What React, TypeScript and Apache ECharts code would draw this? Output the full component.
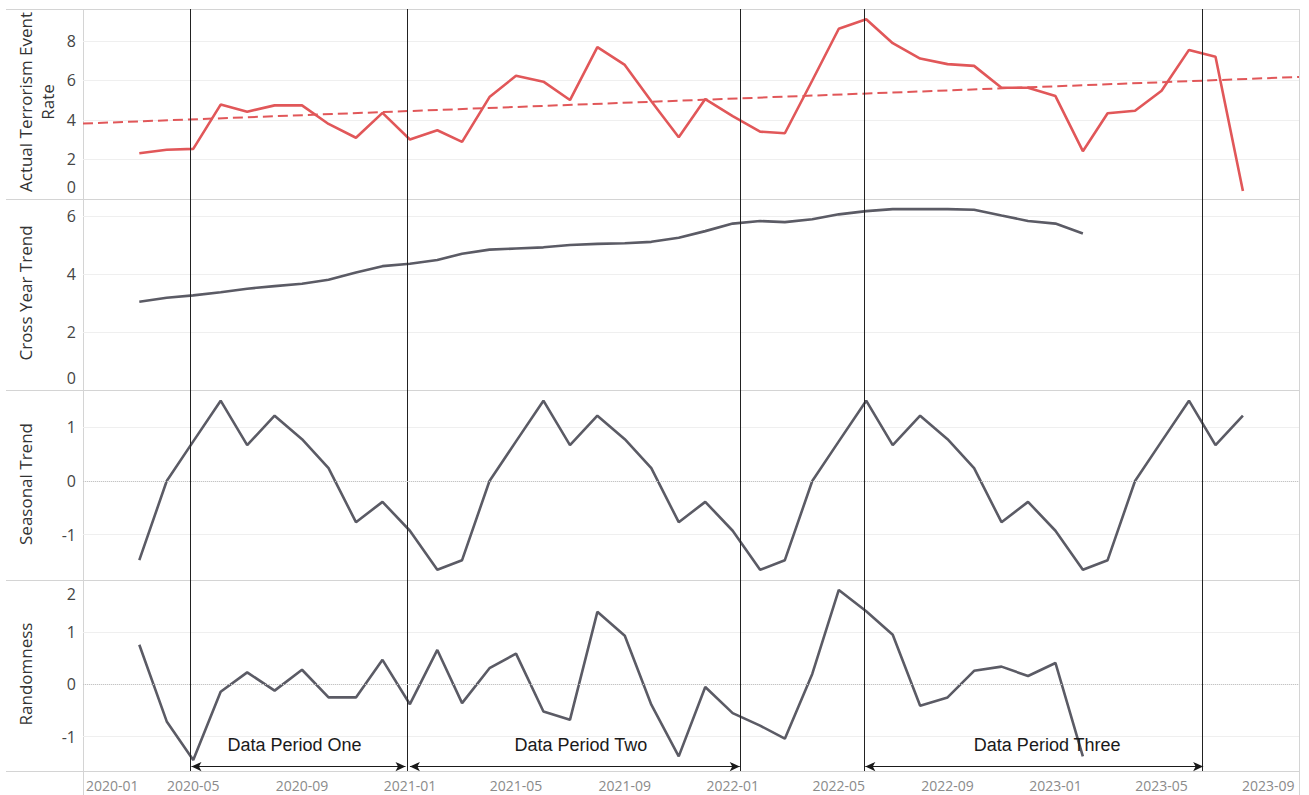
import React, { useEffect, useRef } from 'react';
import * as echarts from 'echarts';

// ---------- data ----------
const months = [
  '2020-03', '2020-04', '2020-05', '2020-06', '2020-07', '2020-08', '2020-09', '2020-10', '2020-11', '2020-12',
  '2021-01', '2021-02', '2021-03', '2021-04', '2021-05', '2021-06', '2021-07', '2021-08', '2021-09', '2021-10', '2021-11', '2021-12',
  '2022-01', '2022-02', '2022-03', '2022-04', '2022-05', '2022-06', '2022-07', '2022-08', '2022-09', '2022-10', '2022-11', '2022-12',
  '2023-01', '2023-02', '2023-03', '2023-04', '2023-05', '2023-06', '2023-07', '2023-08',
];

const actualRate = [
  2.32, 2.49, 2.54, 4.78, 4.42, 4.74, 4.74, 3.8, 3.1, 4.36,
  3.01, 3.48, 2.89, 5.16, 6.24, 5.94, 5.01, 7.69, 6.79, 4.95, 3.13, 5.06,
  4.2, 3.41, 3.33, 6.0, 8.62, 9.1, 7.89, 7.11, 6.83, 6.74, 5.63, 5.63,
  5.21, 2.42, 4.34, 4.47, 5.48, 7.55, 7.2, 0.4,
];

const crossYearTrend = [
  3.05, 3.19, 3.27, 3.38, 3.5, 3.59, 3.67, 3.81, 4.06, 4.28,
  4.36, 4.49, 4.71, 4.85, 4.89, 4.93, 5.01, 5.05, 5.07, 5.12, 5.26, 5.49,
  5.75, 5.84, 5.8, 5.9, 6.07, 6.18, 6.25, 6.25, 6.25, 6.23, 6.03, 5.84,
  5.75, 5.41,
];

const seasonalTrend = [
  -1.48, 0.0, 0.74, 1.5, 0.67, 1.22, 0.78, 0.24, -0.77, -0.39,
  -0.93, -1.66, -1.48, 0.0, 0.74, 1.5, 0.67, 1.22, 0.78, 0.24, -0.77, -0.39,
  -0.93, -1.66, -1.48, 0.0, 0.74, 1.5, 0.67, 1.22, 0.78, 0.24, -0.77, -0.39,
  -0.93, -1.66, -1.48, 0.0, 0.74, 1.5, 0.67, 1.22,
];

const randomness = [
  0.76, -0.71, -1.45, -0.14, 0.23, -0.12, 0.28, -0.25, -0.25, 0.47,
  -0.38, 0.66, -0.36, 0.31, 0.59, -0.52, -0.68, 1.39, 0.93, -0.39, -1.38, -0.05,
  -0.55, -0.79, -1.04, 0.2, 1.81, 1.4, 0.95, -0.41, -0.25, 0.26, 0.34, 0.16,
  0.41, -1.38,
];

const trendStart = 3.82;
const trendEnd = 6.18;

const tickLabels = [
  '2020-01', '2020-05', '2020-09', '2021-01', '2021-05', '2021-09',
  '2022-01', '2022-05', '2022-09', '2023-01', '2023-05', '2023-09',
];

const eventDates = ['2020-04-28', '2020-12-29', '2022-01-10', '2022-05-30', '2023-06-16'];

const periods = [
  { name: 'Data Period One', from: '2020-04-29', to: '2020-12-27', shift: -4 },
  { name: 'Data Period Two', from: '2021-01-01', to: '2022-01-09', shift: 6 },
  { name: 'Data Period Three', from: '2022-05-31', to: '2023-06-17', shift: 13 },
];
const periodArrowLevel = -1.575;

const panelTitles = ['Actual Terrorism Event\nRate', 'Cross Year Trend', 'Seasonal Trend', 'Randomness'];

// ---------- helpers ----------
const toTime = (s: string) => {
  const [y, m, d] = s.split('-').map(Number);
  return Date.UTC(y, m - 1, d || 1);
};
const xMin = Date.UTC(2019, 11, 28, 8);
const xMax = Date.UTC(2023, 9, 3, 10);

const RED = '#e15759';
const GREY = '#5b5b65';
const FONT = '"Open Sans", "Noto Sans", sans-serif';

const fmtMonth = (v: number) => {
  const d = new Date(v);
  return `${d.getUTCFullYear()}-${String(d.getUTCMonth() + 1).padStart(2, '0')}`;
};

export default function App() {
  const ref = useRef<HTMLDivElement>(null);

  useEffect(() => {
    const chart = echarts.init(ref.current!, null, { renderer: 'svg' });

    const panels = [
      { top: 9, height: 190, min: 0, max: 9.62, step: 2 },
      { top: 199, height: 191, min: 0, max: 6.6, step: 2 },
      { top: 390, height: 190, min: -1.85, max: 1.7, step: 1 },
      { top: 580, height: 191, min: -1.66, max: 2.0, step: 1 },
    ];

    const grids = panels.map((p) => ({
      left: 83,
      right: 10,
      top: p.top,
      height: p.height,
      containLabel: false,
    }));

    const xAxes = panels.map((_, i) => ({
      type: 'value',
      gridIndex: i,
      min: xMin,
      max: xMax,
      axisLine: { show: false },
      axisTick: { show: false },
      splitLine: { show: false },
      axisLabel:
        i === 3
          ? {
              show: true,
              customValues: tickLabels.map(toTime),
              margin: 7,
              color: '#8a8a8a',
              fontFamily: FONT,
              fontSize: 14,
              formatter: (v: number) => {
                const s = fmtMonth(v);
                if (s === tickLabels[0]) return `{first|${s}}`;
                if (s === tickLabels[tickLabels.length - 1]) return `{last|${s}}`;
                return s;
              },
              rich: {
                first: { padding: [0, 0, 0, 52] },
                last: { padding: [0, 4, 0, 0] },
              },
            }
          : { show: false },
    }));

    const yAxes = panels.map((p, i) => ({
      type: 'value',
      gridIndex: i,
      min: p.min,
      max: p.max,
      minInterval: p.step,
      maxInterval: p.step,
      axisLine: { show: false },
      axisTick: { show: false },
      splitLine: {
        show: true,
        showMinLine: false,
        showMaxLine: false,
        lineStyle: { color: '#efefef', width: 1 },
      },
      axisLabel: {
        show: true,
        showMinLabel: i === 0 || i === 1,
        showMaxLabel: i === 3,
        margin: 7,
        color: '#454545',
        fontFamily: FONT,
        fontSize: 16,
        formatter: (v: number) => {
          if ((i === 0 || i === 1) && v === 0) return '{up|0}';
          if (i === 3 && v === 2) return '{down|2}';
          return String(v);
        },
        rich: {
          up: { padding: [0, 0, 25, 0] },
          down: { padding: [27, 0, 0, 0] },
        },
      },
    }));

    const verticals = eventDates.map((d) => ({ xAxis: toTime(d) }));
    const zeroLine = { yAxis: 0, lineStyle: { color: '#c4c4c4', type: 'dotted', width: 1 } };

    const baseMarkLine = (extra: any[] = []) => ({
      silent: true,
      animation: false,
      symbol: ['none', 'none'],
      label: { show: false },
      lineStyle: { color: '#222', width: 1, type: 'solid' },
      data: [...verticals, ...extra],
    });

    const arrowItems = periods.map((p) => [
      {
        name: p.name,
        coord: [toTime(p.from), periodArrowLevel],
        symbol: 'arrow',
        symbolSize: [7, 10],
        lineStyle: { color: '#1a1a1a', width: 1, type: 'solid' },
        label: {
          show: true,
          position: 'insideMiddleTop',
          distance: 13,
          formatter: '{b}',
          color: '#1a1a1a',
          fontFamily: '"Liberation Sans", Arial, sans-serif',
          fontSize: 18,
          padding: p.shift >= 0 ? [0, 0, 0, p.shift * 2] : [0, -p.shift * 2, 0, 0],
        },
      },
      {
        coord: [toTime(p.to), periodArrowLevel],
        symbol: 'arrow',
        symbolSize: [7, 10],
      },
    ]);

    const lineSeries = (
      name: string,
      idx: number,
      values: number[],
      color: string,
      markLine: any
    ) => ({
      name,
      type: 'line',
      xAxisIndex: idx,
      yAxisIndex: idx,
      data: values.map((v, k) => [toTime(months[k]), v]),
      showSymbol: false,
      symbol: 'none',
      lineStyle: { color, width: 2.6 },
      itemStyle: { color },
      silent: true,
      markLine,
    });

    const option: any = {
      animation: false,
      backgroundColor: '#ffffff',
      grid: grids,
      xAxis: xAxes,
      yAxis: yAxes,
      series: [
        lineSeries('Actual Terrorism Event Rate', 0, actualRate, RED, baseMarkLine()),
        {
          name: 'Trend',
          type: 'line',
          xAxisIndex: 0,
          yAxisIndex: 0,
          data: [
            [xMin, trendStart],
            [xMax, trendEnd],
          ],
          showSymbol: false,
          symbol: 'none',
          silent: true,
          lineStyle: { color: RED, width: 2, type: [10, 5] },
        },
        lineSeries('Cross Year Trend', 1, crossYearTrend, GREY, baseMarkLine()),
        lineSeries('Seasonal Trend', 2, seasonalTrend, GREY, baseMarkLine([zeroLine])),
        lineSeries('Randomness', 3, randomness, GREY, baseMarkLine([zeroLine, ...arrowItems])),
      ],
      graphic: [
        ...[9, 199, 390, 580, 771].map((y) => ({
          type: 'line',
          silent: true,
          shape: { x1: 6, y1: y + 0.5, x2: 1299, y2: y + 0.5 },
          style: { stroke: '#d4d4d4', lineWidth: 1 },
        })),
        ...[83, 1299].map((x) => ({
          type: 'line',
          silent: true,
          shape: { x1: x + 0.5, y1: 9, x2: x + 0.5, y2: 795 },
          style: { stroke: '#d4d4d4', lineWidth: 1 },
        })),
        ...panelTitles.map((t, i) => {
          const centers = [102, 293, 484, 674];
          const twoLine = t.includes('\n');
          return {
            type: 'text',
            silent: true,
            x: twoLine ? 36 : 25,
            y: centers[i],
            rotation: Math.PI / 2,
            style: {
              text: t,
              fill: '#333',
              fontFamily: FONT,
              fontSize: 17,
              lineHeight: 22,
              align: 'center',
              verticalAlign: 'middle',
              textAlign: 'center',
              textVerticalAlign: 'middle',
            },
          };
        }),
      ],
    };

    chart.setOption(option);
    return () => chart.dispose();
  }, []);

  return (
    <div
      ref={ref}
      style={{ position: 'fixed', left: 0, top: 0, width: 1309, height: 795, background: '#fff' }}
    />
  );
}
